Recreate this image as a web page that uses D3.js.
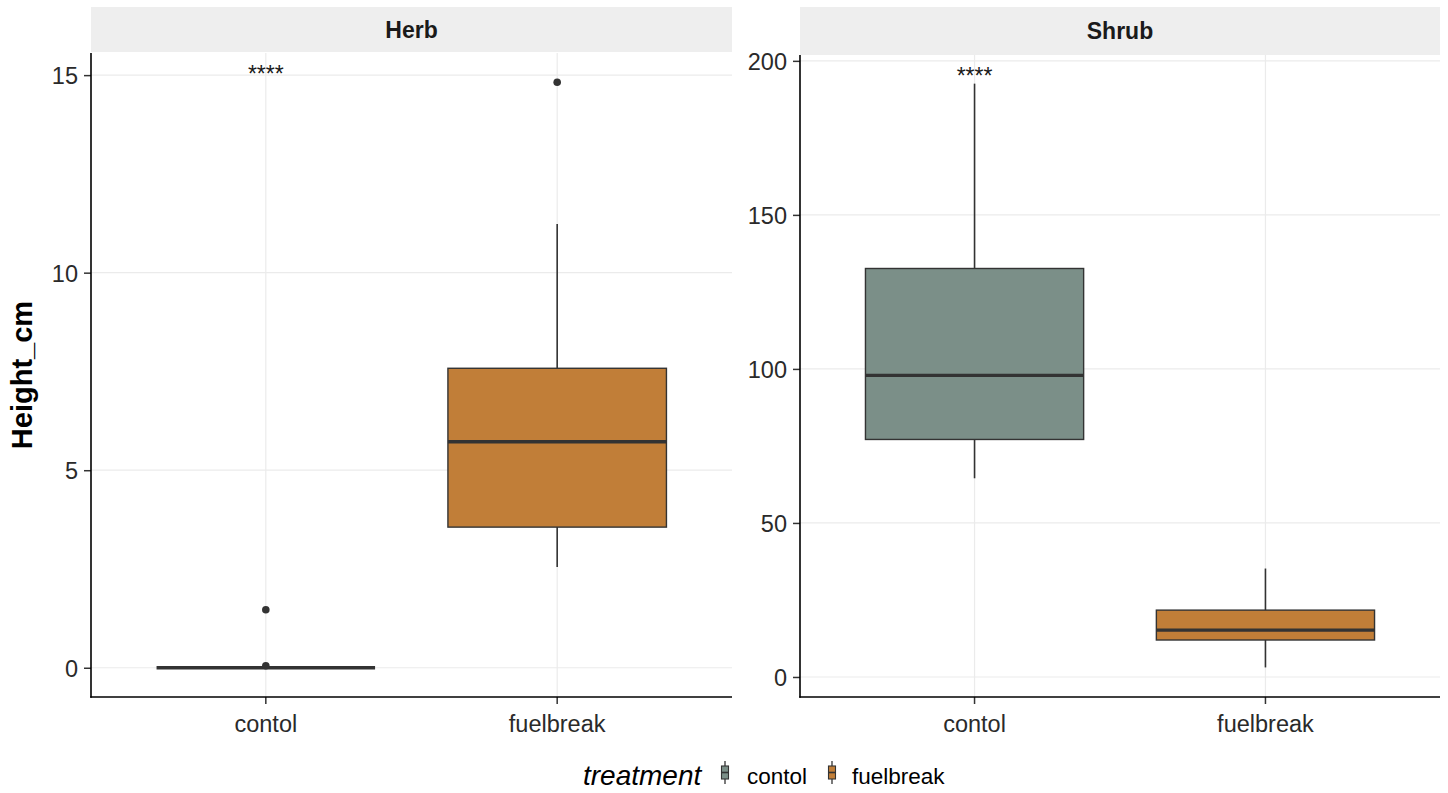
<!DOCTYPE html>
<html><head><meta charset="utf-8">
<script src="https://cdn.jsdelivr.net/npm/d3@7/dist/d3.min.js"></script>
<style>
body{margin:0;background:#fff;}
svg{display:block;font-family:"Liberation Sans",Arial,sans-serif;}
</style></head>
<body>
<svg id="chart" width="1448" height="793"></svg>
<script>
// ---- data ----
const categories = ["contol", "fuelbreak"];
const panelNames = ["Herb", "Shrub"];
const fillColors = ["#7b8f88", "#c17e38"];

const herbTicks = [0, 5, 10, 15];
const herbLowerWhisker = [0, 2.55];
const herbQ1 = [0, 3.56];
const herbMedian = [0, 5.72];
const herbQ3 = [0, 7.58];
const herbUpperWhisker = [0, 11.23];
const herbOutliers = [[1.47, 0.05], [14.82]];
const herbSignif = {category: "contol", label: "****", y: 14.82};

const shrubTicks = [0, 50, 100, 150, 200];
const shrubLowerWhisker = [64.5, 3.1];
const shrubQ1 = [77.1, 12.0];
const shrubMedian = [97.9, 15.2];
const shrubQ3 = [132.6, 21.7];
const shrubUpperWhisker = [192.6, 35.2];
const shrubOutliers = [[], []];
const shrubSignif = {category: "contol", label: "****", y: 192.6};

const legendTitle = "treatment";
const yTitle = "Height_cm";

// ---- layout ----
const svg = d3.select("#chart");
const panels = [
  {name: panelNames[0], x0: 91, x1: 732, top: 53, bottom: 697, stripTop: 7, stripBottom: 52,
   domain: [-0.74, 15.56], ticks: herbTicks,
   lo: herbLowerWhisker, q1: herbQ1, med: herbMedian, q3: herbQ3, hi: herbUpperWhisker,
   out: herbOutliers, sig: herbSignif},
  {name: panelNames[1], x0: 800, x1: 1440, top: 55, bottom: 697, stripTop: 7, stripBottom: 55,
   domain: [-6.5, 201.9], ticks: shrubTicks,
   lo: shrubLowerWhisker, q1: shrubQ1, med: shrubMedian, q3: shrubQ3, hi: shrubUpperWhisker,
   out: shrubOutliers, sig: shrubSignif}
];
panels[0].range = [697, 53];
panels[1].range = [697, 55];

const lineCol = "#333333";

panels.forEach(p => {
  const g = svg.append("g");
  const x = d3.scaleBand().domain(categories).range([p.x0, p.x1]).paddingInner(0).paddingOuter(0.1);
  const y = d3.scaleLinear().domain(p.domain).range(p.range);
  const cx = c => x(c) + x.bandwidth() / 2;
  const bw = x.bandwidth() * 0.75;

  // strip
  g.append("rect").attr("x", p.x0).attr("y", p.stripTop).attr("width", p.x1 - p.x0)
    .attr("height", p.stripBottom - p.stripTop).attr("fill", "#eeeeee");
  g.append("text").attr("x", (p.x0 + p.x1) / 2).attr("y", (p.stripTop + p.stripBottom) / 2 + 8)
    .attr("text-anchor", "middle").attr("font-weight", "bold").attr("font-size", 23)
    .attr("fill", "#1a1a1a").text(p.name);

  // grid
  g.append("g").selectAll("line").data(p.ticks).join("line")
    .attr("x1", p.x0).attr("x2", p.x1).attr("y1", d => y(d)).attr("y2", d => y(d))
    .attr("stroke", "#ebebeb").attr("stroke-width", 1.2);
  g.append("g").selectAll("line").data(categories).join("line")
    .attr("x1", d => cx(d)).attr("x2", d => cx(d)).attr("y1", p.top).attr("y2", p.bottom)
    .attr("stroke", "#ebebeb").attr("stroke-width", 1.2);

  // boxes
  categories.forEach((c, i) => {
    const bg = g.append("g");
    bg.append("line").attr("x1", cx(c)).attr("x2", cx(c))
      .attr("y1", y(p.hi[i])).attr("y2", y(p.q3[i])).attr("stroke", lineCol).attr("stroke-width", 1.6);
    bg.append("line").attr("x1", cx(c)).attr("x2", cx(c))
      .attr("y1", y(p.q1[i])).attr("y2", y(p.lo[i])).attr("stroke", lineCol).attr("stroke-width", 1.6);
    bg.append("rect").attr("x", cx(c) - bw / 2).attr("width", bw)
      .attr("y", y(p.q3[i])).attr("height", Math.max(0, y(p.q1[i]) - y(p.q3[i])))
      .attr("fill", fillColors[i]).attr("stroke", lineCol).attr("stroke-width", 1.4);
    bg.append("line").attr("x1", cx(c) - bw / 2).attr("x2", cx(c) + bw / 2)
      .attr("y1", y(p.med[i])).attr("y2", y(p.med[i])).attr("stroke", lineCol).attr("stroke-width", 3.4);
    bg.selectAll("circle").data(p.out[i]).join("circle")
      .attr("cx", cx(c)).attr("cy", d => y(d)).attr("r", 3.8).attr("fill", lineCol);
  });

  // significance label
  g.append("text").attr("x", cx(p.sig.category)).attr("y", y(p.sig.y))
    .attr("text-anchor", "middle").attr("font-size", 23).attr("fill", "#1a1a1a").text(p.sig.label);

  // axes
  const yAxis = g.append("g").attr("transform", `translate(${p.x0},0)`)
    .call(d3.axisLeft(y).tickValues(p.ticks).tickSize(7).tickPadding(6).tickFormat(d3.format("d")));
  const xAxis = g.append("g").attr("transform", `translate(0,${p.bottom})`)
    .call(d3.axisBottom(x).tickSize(7).tickPadding(6));
  [yAxis, xAxis].forEach(a => {
    a.select(".domain").remove();
    a.selectAll(".tick line").attr("stroke", "#333").attr("stroke-width", 1.5);
    a.selectAll(".tick text").attr("font-size", 23.5).attr("fill", "#2a2a2a")
      .attr("font-family", "'Liberation Sans',Arial,sans-serif");
  });
  xAxis.selectAll(".tick text").attr("dy", "0.93em");
  yAxis.selectAll(".tick text").attr("dy", "0.36em");
  // axis lines
  g.append("line").attr("x1", p.x0).attr("x2", p.x0).attr("y1", p.top).attr("y2", p.bottom + 0.75)
    .attr("stroke", "#000").attr("stroke-width", 1.6);
  g.append("line").attr("x1", p.x0 - 0.75).attr("x2", p.x1).attr("y1", p.bottom).attr("y2", p.bottom)
    .attr("stroke", "#000").attr("stroke-width", 1.6);
});

// y title
svg.append("text").attr("transform", "translate(32,375) rotate(-90)")
  .attr("text-anchor", "middle").attr("font-weight", "bold").attr("font-size", 29)
  .attr("fill", "#000").text(yTitle);

// legend
const leg = svg.append("g");
leg.append("text").attr("x", 583).attr("y", 785).attr("font-style", "italic").attr("font-size", 28)
  .attr("fill", "#000").text(legendTitle);
const keyX = [725, 832];
const labX = [747, 852];
categories.forEach((c, i) => {
  const k = leg.append("g");
  k.append("line").attr("x1", keyX[i]).attr("x2", keyX[i]).attr("y1", 761).attr("y2", 784)
    .attr("stroke", lineCol).attr("stroke-width", 1.3);
  k.append("rect").attr("x", keyX[i] - 3.5).attr("y", 766).attr("width", 7).attr("height", 13)
    .attr("fill", fillColors[i]).attr("stroke", lineCol).attr("stroke-width", 1.1);
  k.append("line").attr("x1", keyX[i] - 3.5).attr("x2", keyX[i] + 3.5).attr("y1", 772.5).attr("y2", 772.5)
    .attr("stroke", lineCol).attr("stroke-width", 1.6);
  leg.append("text").attr("x", labX[i]).attr("y", 784).attr("font-size", 22.5).attr("fill", "#000").text(c);
});
</script>
</body></html>
